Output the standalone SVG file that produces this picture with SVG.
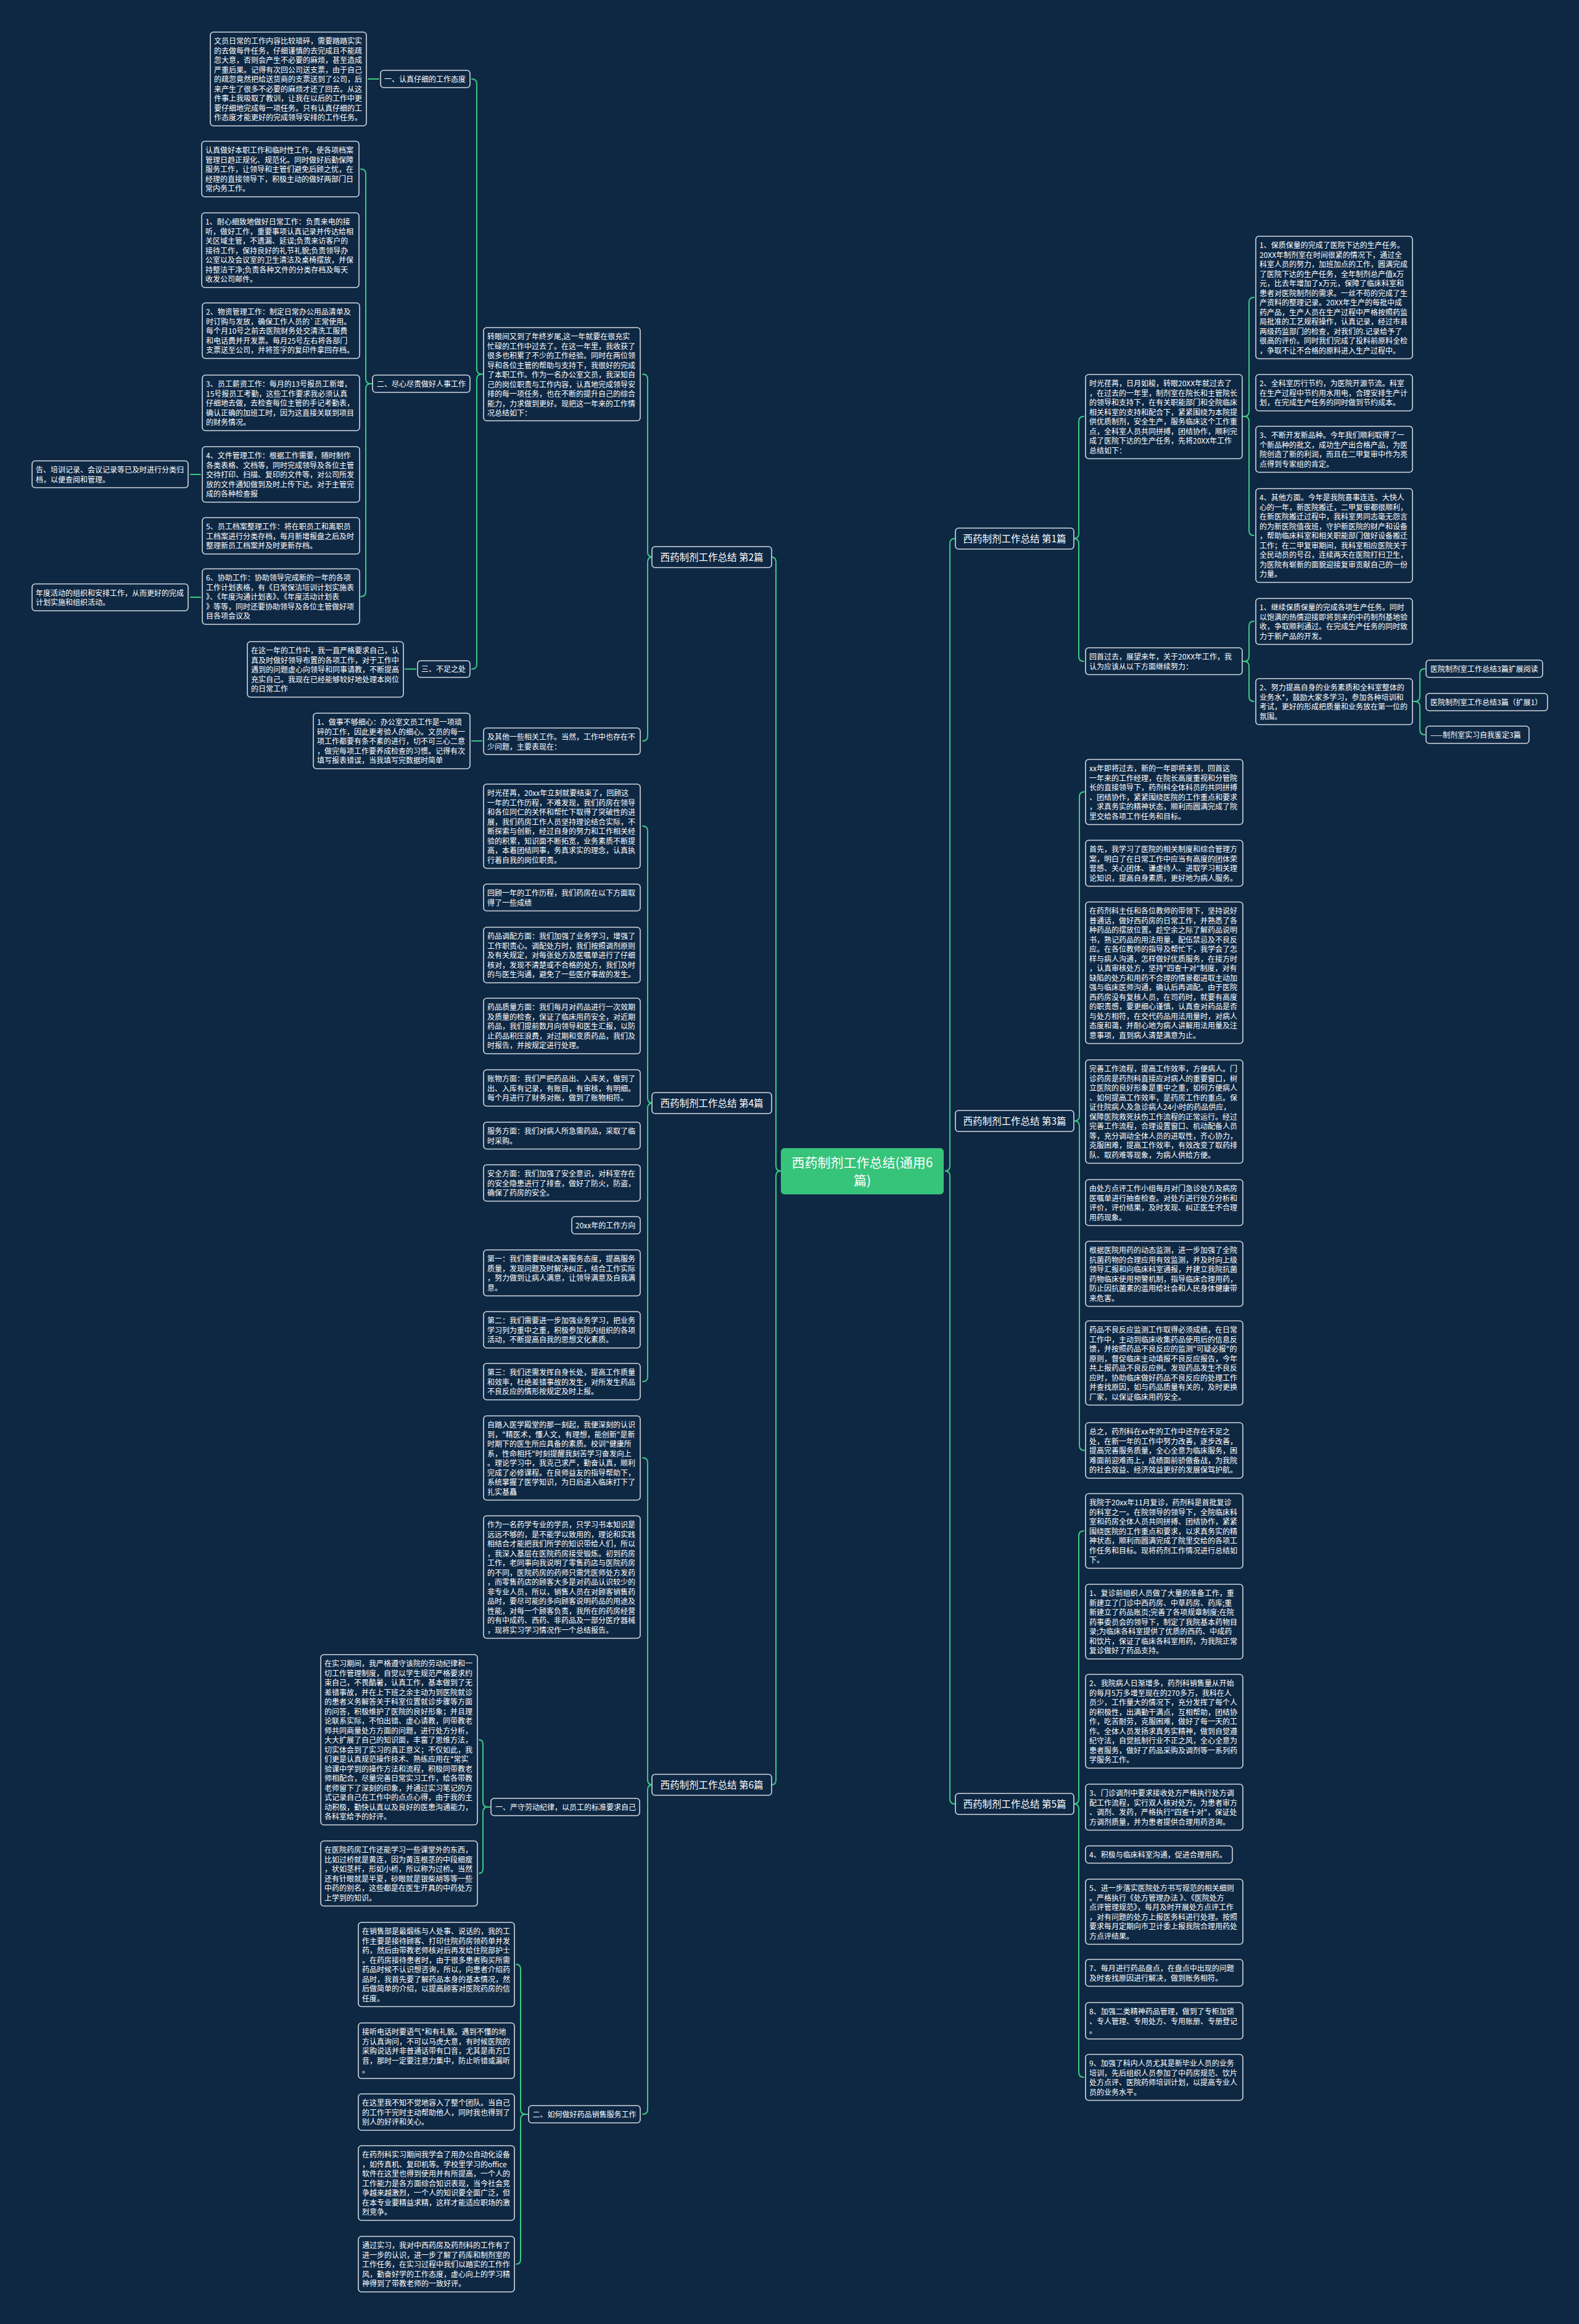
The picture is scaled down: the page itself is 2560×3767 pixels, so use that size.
<svg xmlns="http://www.w3.org/2000/svg" width="2560" height="3767" viewBox="0 0 2560 3767">
<style>
.bg{fill:#0e2844}
.box{fill:#0e2844;stroke:#d3d8de;stroke-width:1.6}
.t{font-family:"Noto Sans CJK SC","Noto Sans",sans-serif;font-size:12px;fill:#ffffff}
.l1{fill:#0e2844;stroke:#d3d8de;stroke-width:1.6}
.l1t{font-family:"Noto Sans CJK SC","Noto Sans",sans-serif;font-size:15.5px;fill:#ffffff;text-anchor:middle}
.root{fill:#36c37a}
.rt{font-family:"Noto Sans CJK SC","Noto Sans",sans-serif;font-size:21px;fill:#ffffff;text-anchor:middle}
.lk{fill:none;stroke:#3ccb83;stroke-width:2;stroke-linecap:round}
</style>
<rect class="bg" x="0" y="0" width="2560" height="3767"/>

<g id="connectors">
<path class="lk" d="M1251,903 Q1258,903 1258,911 L1258,1890 Q1258,1898 1266,1898 Q1258,1898 1258,1906 L1258,2885 Q1258,2893 1251,2893"/>
<path class="lk" d="M1548,873 Q1540,873 1540,881 L1540,1890 Q1540,1898 1532,1898 Q1540,1898 1540,1906 L1540,2916 Q1540,2924 1548,2924"/>
<path class="lk" d="M1042,606.5 Q1050,606.5 1050,614.5 L1050,895 Q1050,903 1058,903 Q1050,903 1050,911 L1050,1193 Q1050,1201 1042,1201"/>
<path class="lk" d="M765,128 Q773,128 773,136 L773,598.5 Q773,606.5 781,606.5 Q773,606.5 773,614.5 L773,1076.5 Q773,1084.5 765,1084.5 M781,606.5 H784"/>
<path class="lk" d="M585,274 Q593,274 593,282 L593,614 Q593,622 601,622 Q593,622 593,630 L593,959 Q593,967 585,967 M601,622 H604"/>
<path class="lk" d="M597,128 H614"/>
<path class="lk" d="M309,769 H325"/>
<path class="lk" d="M309,968 H325"/>
<path class="lk" d="M657,1084.5 H674"/>
<path class="lk" d="M765,1201 H781"/>
<path class="lk" d="M1042,1339 Q1050,1339 1050,1347 L1050,1780 Q1050,1788 1058,1788 Q1050,1788 1050,1796 L1050,2231.5 Q1050,2239.5 1042,2239.5"/>
<path class="lk" d="M1042,2363 Q1050,2363 1050,2371 L1050,2885 Q1050,2893 1058,2893 Q1050,2893 1050,2901 L1050,3419 Q1050,3427 1042,3427"/>
<path class="lk" d="M777,2820 Q783,2820 783,2828 L783,2921 Q783,2929 791,2929 Q783,2929 783,2937 L783,3028.5 Q783,3036.5 777,3036.5 M791,2929 H796"/>
<path class="lk" d="M837,3184 Q844,3184 844,3192 L844,3419 Q844,3427 852,3427 Q844,3427 844,3435 L844,3662 Q844,3670 837,3670 M852,3427 H857"/>
<path class="lk" d="M1757,675 Q1749,675 1749,683 L1749,865 Q1749,873 1741,873 Q1749,873 1749,881 L1749,1064 Q1749,1072 1757,1072"/>
<path class="lk" d="M2033,482 Q2025,482 2025,490 L2025,667 Q2025,675 2017,675 Q2025,675 2025,683 L2025,860 Q2025,868 2033,868 M2017,675 H2014"/>
<path class="lk" d="M2033,1007 Q2025,1007 2025,1015 L2025,1064 Q2025,1072 2017,1072 Q2025,1072 2025,1080 L2025,1129 Q2025,1137 2033,1137 M2017,1072 H2014"/>
<path class="lk" d="M2310,1084 Q2302,1084 2302,1092 L2302,1129 Q2302,1137 2294,1137 Q2302,1137 2302,1145 L2302,1183 Q2302,1191 2310,1191 M2294,1137 H2290"/>
<path class="lk" d="M1758,1283.5 Q1750,1283.5 1750,1291.5 L1750,1809 Q1750,1817 1742,1817 Q1750,1817 1750,1825 L1750,2343 Q1750,2351 1758,2351"/>
<path class="lk" d="M1757,2481.5 Q1749,2481.5 1749,2489.5 L1749,2916 Q1749,2924 1741,2924 Q1749,2924 1749,2932 L1749,3359 Q1749,3367 1757,3367"/>
</g>

<g id="root"><rect class="root" x="1266" y="1861" width="264" height="75" rx="6"/><text class="rt" x="1398" y="1892">西药制剂工作总结(通用6<tspan x="1398" dy="29">篇)</tspan></text></g>

<g id="p2"><rect class="l1" x="1057" y="886" width="194" height="34" rx="5"/><text class="l1t" x="1154" y="908.5">西药制剂工作总结 第2篇</text></g>
<g id="p4"><rect class="l1" x="1057" y="1771" width="194" height="34" rx="5"/><text class="l1t" x="1154" y="1793.5">西药制剂工作总结 第4篇</text></g>
<g id="p6"><rect class="l1" x="1057" y="2876" width="194" height="34" rx="5"/><text class="l1t" x="1154" y="2898.5">西药制剂工作总结 第6篇</text></g>
<g id="p1"><rect class="l1" x="1549" y="856" width="192" height="34" rx="5"/><text class="l1t" x="1645" y="878.5">西药制剂工作总结 第1篇</text></g>
<g id="p3"><rect class="l1" x="1549" y="1800" width="192" height="34" rx="5"/><text class="l1t" x="1645" y="1822.5">西药制剂工作总结 第3篇</text></g>
<g id="p5"><rect class="l1" x="1549" y="2907" width="192" height="34" rx="5"/><text class="l1t" x="1645" y="2929.5">西药制剂工作总结 第5篇</text></g>

<g id="n2-intro"><rect class="box" x="784" y="531" width="254" height="151" rx="5"/><text class="t" x="790" y="550">转眼间又到了年终岁尾,这一年就要在很充实<tspan x="790" dy="15.5">忙碌的工作中过去了。在这一年里，我收获了</tspan><tspan x="790" dy="15.5">很多也积累了不少的工作经验。同时在两位领</tspan><tspan x="790" dy="15.5">导和各位主管的帮助与支持下，我很好的完成</tspan><tspan x="790" dy="15.5">了本职工作。作为一名办公室文员，我深知自</tspan><tspan x="790" dy="15.5">己的岗位职责与工作内容，认真地完成领导安</tspan><tspan x="790" dy="15.5">排的每一项任务，也在不断的提升自己的综合</tspan><tspan x="790" dy="15.5">能力，力求做到更好。现把这一年来的工作情</tspan><tspan x="790" dy="15.5">况总结如下：</tspan></text></g>

<g id="n2-a"><rect class="box" x="617" y="114" width="145" height="28" rx="5"/><text class="t" x="623" y="132.5">一、认真仔细的工作态度</text></g>
<g id="n2-a1"><rect class="box" x="341" y="52" width="253" height="152" rx="5"/><text class="t" x="347" y="71">文员日常的工作内容比较琐碎，需要踏踏实实<tspan x="347" dy="15.5">的去做每件任务，仔细谨慎的去完成且不能疏</tspan><tspan x="347" dy="15.5">忽大意，否则会产生不必要的麻烦，甚至造成</tspan><tspan x="347" dy="15.5">严重后果。记得有次回公司送支票，由于自己</tspan><tspan x="347" dy="15.5">的疏忽竟然把给送货商的支票送到了公司，后</tspan><tspan x="347" dy="15.5">来产生了很多不必要的麻烦才还了回去。从这</tspan><tspan x="347" dy="15.5">件事上我吸取了教训，让我在以后的工作中更</tspan><tspan x="347" dy="15.5">要仔细地完成每一项任务。只有认真仔细的工</tspan><tspan x="347" dy="15.5">作态度才能更好的完成领导安排的工作任务。</tspan></text></g>

<g id="n2-b"><rect class="box" x="604" y="608" width="158" height="28" rx="5"/><text class="t" x="611" y="626.5">二、尽心尽责做好人事工作</text></g>
<g id="n2-b1"><rect class="box" x="327" y="229" width="255" height="90" rx="5"/><text class="t" x="333" y="248">认真做好本职工作和临时性工作，使各项档案<tspan x="333" dy="15.5">管理日趋正规化、规范化。同时做好后勤保障</tspan><tspan x="333" dy="15.5">服务工作，让领导和主管们避免后顾之忧，在</tspan><tspan x="333" dy="15.5">经理的直接领导下，积极主动的做好两部门日</tspan><tspan x="333" dy="15.5">常内务工作。</tspan></text></g>
<g id="n2-b2"><rect class="box" x="327" y="345" width="255" height="121" rx="5"/><text class="t" x="333" y="364">1、耐心细致地做好日常工作：负责来电的接<tspan x="333" dy="15.5">听，做好工作，重要事项认真记录并传达给相</tspan><tspan x="333" dy="15.5">关区域主管，不遗漏、延误;负责来访客户的</tspan><tspan x="333" dy="15.5">接待工作，保持良好的礼节礼貌;负责领导办</tspan><tspan x="333" dy="15.5">公室以及会议室的卫生清洁及桌椅摆放，并保</tspan><tspan x="333" dy="15.5">持整洁干净;负责各种文件的分类存档及每天</tspan><tspan x="333" dy="15.5">收发公司邮件。</tspan></text></g>
<g id="n2-b3"><rect class="box" x="328" y="491" width="255" height="90" rx="5"/><text class="t" x="334" y="510">2、物资管理工作：制定日常办公用品清单及<tspan x="334" dy="15.5">时订购与发放，确保工作人员的`正常使用。</tspan><tspan x="334" dy="15.5">每个月10号之前去医院财务处交清洗工服费</tspan><tspan x="334" dy="15.5">和电话费并开发票。每月25号左右将各部门</tspan><tspan x="334" dy="15.5">支票送至公司，并将签字的复印件拿回存档。</tspan></text></g>
<g id="n2-b4"><rect class="box" x="328" y="608" width="255" height="90" rx="5"/><text class="t" x="334" y="627">3、员工薪资工作：每月的13号报员工新增，<tspan x="334" dy="15.5">15号报员工考勤，这些工作要求我必须认真</tspan><tspan x="334" dy="15.5">仔细地去做，去检查每位主管的手记考勤表，</tspan><tspan x="334" dy="15.5">确认正确的加班工时，因为这直接关联到项目</tspan><tspan x="334" dy="15.5">的财务情况。</tspan></text></g>
<g id="n2-b5"><rect class="box" x="328" y="724" width="255" height="90" rx="5"/><text class="t" x="334" y="743">4、文件管理工作：根据工作需要，随时制作<tspan x="334" dy="15.5">各类表格、文档等，同时完成领导及各位主管</tspan><tspan x="334" dy="15.5">交待打印、扫描、复印的文件等，对公司所发</tspan><tspan x="334" dy="15.5">放的文件通知做到及时上传下达。对于主管完</tspan><tspan x="334" dy="15.5">成的各种检查报</tspan></text></g>
<g id="n2-b5a"><rect class="box" x="52" y="747" width="253" height="43.5" rx="5"/><text class="t" x="58" y="766">告、培训记录、会议记录等已及时进行分类归<tspan x="58" dy="15.5">档，以便查阅和管理。</tspan></text></g>
<g id="n2-b6"><rect class="box" x="328" y="839" width="255" height="59" rx="5"/><text class="t" x="334" y="858">5、员工档案整理工作：将在职员工和离职员<tspan x="334" dy="15.5">工档案进行分类存档，每月新增报盘之后及时</tspan><tspan x="334" dy="15.5">整理新员工档案并及时更新存档。</tspan></text></g>
<g id="n2-b7"><rect class="box" x="328" y="922" width="255" height="90" rx="5"/><text class="t" x="334" y="941">6、协助工作：协助领导完成新的一年的各项<tspan x="334" dy="15.5">工作计划表格，有《日常保洁培训计划实施表</tspan><tspan x="334" dy="15.5">》、《年度沟通计划表》、《年度活动计划表</tspan><tspan x="334" dy="15.5">》等等，同时还要协助领导及各位主管做好项</tspan><tspan x="334" dy="15.5">目各项会议及</tspan></text></g>
<g id="n2-b7a"><rect class="box" x="52" y="946.5" width="253" height="43.5" rx="5"/><text class="t" x="58" y="965.5">年度活动的组织和安排工作，从而更好的完成<tspan x="58" dy="15.5">计划实施和组织活动。</tspan></text></g>
<g id="n2-c"><rect class="box" x="677" y="1071" width="85" height="27" rx="5"/><text class="t" x="683" y="1089">三、不足之处</text></g>
<g id="n2-c1"><rect class="box" x="401" y="1040" width="253" height="90" rx="5"/><text class="t" x="407" y="1059">在这一年的工作中，我一直严格要求自己，认<tspan x="407" dy="15.5">真及时做好领导布置的各项工作，对于工作中</tspan><tspan x="407" dy="15.5">遇到的问题虚心向领导和同事请教，不断提高</tspan><tspan x="407" dy="15.5">充实自己。我现在已经能够较好地处理本岗位</tspan><tspan x="407" dy="15.5">的日常工作</tspan></text></g>
<g id="n2-d"><rect class="box" x="784" y="1180" width="254" height="43" rx="5"/><text class="t" x="790" y="1199">及其他一些相关工作。当然，工作中也存在不<tspan x="790" dy="15.5">少问题，主要表现在：</tspan></text></g>
<g id="n2-d1"><rect class="box" x="508" y="1156" width="254" height="90" rx="5"/><text class="t" x="514" y="1175">1、做事不够细心：办公室文员工作是一项琐<tspan x="514" dy="15.5">碎的工作，因此更考验人的细心。文员的每一</tspan><tspan x="514" dy="15.5">项工作都要有条不紊的进行，切不可三心二意</tspan><tspan x="514" dy="15.5">，做完每项工作要养成检查的习惯。记得有次</tspan><tspan x="514" dy="15.5">填写报表错误，当我填写完数据时简单</tspan></text></g>

<g id="n4-1"><rect class="box" x="784" y="1271" width="254" height="136.5" rx="5"/><text class="t" x="790" y="1290">时光荏苒，20xx年立刻就要结束了，回顾这<tspan x="790" dy="15.5">一年的工作历程，不难发现，我们药房在领导</tspan><tspan x="790" dy="15.5">和各位同仁的关怀和帮忙下取得了突破性的进</tspan><tspan x="790" dy="15.5">展，我们药房工作人员坚持理论结合实际，不</tspan><tspan x="790" dy="15.5">断探索与创新，经过自身的努力和工作相关经</tspan><tspan x="790" dy="15.5">验的积累，知识面不断拓宽，业务素质不断提</tspan><tspan x="790" dy="15.5">高，本着团结同事，务真求实的理念，认真执</tspan><tspan x="790" dy="15.5">行着自我的岗位职责。</tspan></text></g>
<g id="n4-2"><rect class="box" x="784" y="1433" width="254" height="43.5" rx="5"/><text class="t" x="790" y="1452">回顾一年的工作历程，我们药房在以下方面取<tspan x="790" dy="15.5">得了一些成绩</tspan></text></g>
<g id="n4-3"><rect class="box" x="784" y="1503" width="254" height="90" rx="5"/><text class="t" x="790" y="1522">药品调配方面：我们加强了业务学习，增强了<tspan x="790" dy="15.5">工作职责心。调配处方时，我们按照调剂原则</tspan><tspan x="790" dy="15.5">及有关规定，对每张处方及医嘱单进行了仔细</tspan><tspan x="790" dy="15.5">核对，发现不清楚或不合格的处方，我们及时</tspan><tspan x="790" dy="15.5">的与医生沟通，避免了一些医疗事故的发生。</tspan></text></g>
<g id="n4-4"><rect class="box" x="784" y="1618" width="254" height="90" rx="5"/><text class="t" x="790" y="1637">药品质量方面：我们每月对药品进行一次效期<tspan x="790" dy="15.5">及质量的检查，保证了临床用药安全，对近期</tspan><tspan x="790" dy="15.5">药品，我们提前数月向领导和医生汇报，以防</tspan><tspan x="790" dy="15.5">止药品积压浪费，对过期和变质药品，我们及</tspan><tspan x="790" dy="15.5">时报告，并按规定进行处理。</tspan></text></g>
<g id="n4-5"><rect class="box" x="784" y="1734" width="254" height="59" rx="5"/><text class="t" x="790" y="1753">账物方面：我们严把药品出、入库关，做到了<tspan x="790" dy="15.5">出、入库有记录，有账目，有审核，有明细。</tspan><tspan x="790" dy="15.5">每个月进行了财务对账，做到了账物相符。</tspan></text></g>
<g id="n4-6"><rect class="box" x="784" y="1819" width="254" height="43.5" rx="5"/><text class="t" x="790" y="1838">服务方面：我们对病人所急需药品，采取了临<tspan x="790" dy="15.5">时采购。</tspan></text></g>
<g id="n4-7"><rect class="box" x="784" y="1888" width="254" height="59" rx="5"/><text class="t" x="790" y="1907">安全方面：我们加强了安全意识，对科室存在<tspan x="790" dy="15.5">的安全隐患进行了排查，做好了防火，防盗，</tspan><tspan x="790" dy="15.5">确保了药房的安全。</tspan></text></g>
<g id="n4-8"><rect class="box" x="927" y="1972" width="111" height="28" rx="5"/><text class="t" x="933" y="1990.5">20xx年的工作方向</text></g>
<g id="n4-9"><rect class="box" x="784" y="2026" width="254" height="74.5" rx="5"/><text class="t" x="790" y="2045">第一：我们需要继续改善服务态度，提高服务<tspan x="790" dy="15.5">质量，发现问题及时解决纠正，结合工作实际</tspan><tspan x="790" dy="15.5">，努力做到让病人满意，让领导满意及自我满</tspan><tspan x="790" dy="15.5">意。</tspan></text></g>
<g id="n4-10"><rect class="box" x="784" y="2126" width="254" height="59" rx="5"/><text class="t" x="790" y="2145">第二：我们需要进一步加强业务学习，把业务<tspan x="790" dy="15.5">学习列为重中之重，积极参加院内组织的各项</tspan><tspan x="790" dy="15.5">活动，不断提高自我的思想文化素质。</tspan></text></g>
<g id="n4-11"><rect class="box" x="784" y="2210" width="254" height="59" rx="5"/><text class="t" x="790" y="2229">第三：我们还需发挥自身长处，提高工作质量<tspan x="790" dy="15.5">和效率，杜绝差错事故的发生，对所发生药品</tspan><tspan x="790" dy="15.5">不良反应的情形按规定及时上报。</tspan></text></g>

<g id="n6-1"><rect class="box" x="784" y="2295" width="254" height="136.5" rx="5"/><text class="t" x="790" y="2314">自踏入医学殿堂的那一刻起，我便深刻的认识<tspan x="790" dy="15.5">到，"精医术，懂人文，有理想，能创新"是新</tspan><tspan x="790" dy="15.5">时期下的医生所应具备的素质。校训"健康所</tspan><tspan x="790" dy="15.5">系，性命相托"时刻提醒我刻苦学习奋发向上</tspan><tspan x="790" dy="15.5">。理论学习中，我克己求严，勤奋认真，顺利</tspan><tspan x="790" dy="15.5">完成了必修课程。在良师益友的指导帮助下，</tspan><tspan x="790" dy="15.5">系统掌握了医学知识，为日后进入临床打下了</tspan><tspan x="790" dy="15.5">扎实基矗</tspan></text></g>
<g id="n6-2"><rect class="box" x="784" y="2457" width="254" height="198.5" rx="5"/><text class="t" x="790" y="2476">作为一名药学专业的学员，只学习书本知识是<tspan x="790" dy="15.5">远远不够的，是不能学以致用的，理论和实践</tspan><tspan x="790" dy="15.5">相结合才能把我们所学的知识带给人们，所以</tspan><tspan x="790" dy="15.5">，我深入基层在医院药房接受锻炼。初到药房</tspan><tspan x="790" dy="15.5">工作，老同事向我说明了零售药店与医院药房</tspan><tspan x="790" dy="15.5">的不同，医院药房的药师只需凭医师处方发药</tspan><tspan x="790" dy="15.5">，而零售药店的顾客大多是对药品认识较少的</tspan><tspan x="790" dy="15.5">非专业人员，所以，销售人员在对顾客销售药</tspan><tspan x="790" dy="15.5">品时，要尽可能的多向顾客说明药品的用途及</tspan><tspan x="790" dy="15.5">性能，对每一个顾客负责，我所在的药房经营</tspan><tspan x="790" dy="15.5">的有中成药、西药、非药品及一部分医疗器械</tspan><tspan x="790" dy="15.5">，现将实习学习情况作一个总结报告。</tspan></text></g>
<g id="n6-3"><rect class="box" x="796" y="2915" width="241" height="28" rx="5"/><text class="t" x="803" y="2933.5">一、严守劳动纪律，以员工的标准要求自己</text></g>
<g id="n6-3a"><rect class="box" x="520" y="2682" width="254" height="276" rx="5"/><text class="t" x="526" y="2701">在实习期间，我严格遵守该院的劳动纪律和一<tspan x="526" dy="15.5">切工作管理制度，自觉以学生规范严格要求约</tspan><tspan x="526" dy="15.5">束自己，不畏酷暑，认真工作，基本做到了无</tspan><tspan x="526" dy="15.5">差错事故，并在上下班之余主动为到医院就诊</tspan><tspan x="526" dy="15.5">的患者义务解答关于科室位置就诊步骤等方面</tspan><tspan x="526" dy="15.5">的问答，积极维护了医院的良好形象；并且理</tspan><tspan x="526" dy="15.5">论联系实际，不怕出错、虚心请教，同带教老</tspan><tspan x="526" dy="15.5">师共同商量处方方面的问题，进行处方分析，</tspan><tspan x="526" dy="15.5">大大扩展了自己的知识面，丰富了思维方法，</tspan><tspan x="526" dy="15.5">切实体会到了实习的真正意义；不仅如此，我</tspan><tspan x="526" dy="15.5">们更是认真规范操作技术、熟练应用在*常实</tspan><tspan x="526" dy="15.5">验课中学到的操作方法和流程，积极同带教老</tspan><tspan x="526" dy="15.5">师相配合，尽量完善日常实习工作，给各带教</tspan><tspan x="526" dy="15.5">老师留下了深刻的印象，并通过实习笔记的方</tspan><tspan x="526" dy="15.5">式记录自己在工作中的点点心得，由于我的主</tspan><tspan x="526" dy="15.5">动积极，勤快认真以及良好的医患沟通能力，</tspan><tspan x="526" dy="15.5">各科室给予的好评。</tspan></text></g>
<g id="n6-3b"><rect class="box" x="520" y="2984" width="254" height="105.5" rx="5"/><text class="t" x="526" y="3003">在医院药房工作还能学习一些课堂外的东西，<tspan x="526" dy="15.5">比如过桥就是黄连，因为黄连根茎的中段细瘦</tspan><tspan x="526" dy="15.5">，状如茎杆，形如小桥，所以称为过桥。当然</tspan><tspan x="526" dy="15.5">还有针眼就是半夏，砂眼就是银柴胡等等一些</tspan><tspan x="526" dy="15.5">中药的别名，这些都是在医生开具的中药处方</tspan><tspan x="526" dy="15.5">上学到的知识。</tspan></text></g>
<g id="n6-4"><rect class="box" x="857" y="3413" width="181" height="28" rx="5"/><text class="t" x="863.5" y="3431.5">二、如何做好药品销售服务工作</text></g>
<g id="n6-4a"><rect class="box" x="581" y="3116" width="253" height="136.5" rx="5"/><text class="t" x="587" y="3135">在销售部是最煅练与人处事、说话的，我的工<tspan x="587" dy="15.5">作主要是接待顾客、打印住院药房领药单并发</tspan><tspan x="587" dy="15.5">药，然后由带教老师核对后再发给住院部护士</tspan><tspan x="587" dy="15.5">。在药房接待患者时，由于很多患者购买所需</tspan><tspan x="587" dy="15.5">药品时候不认识想咨询，所以，向患者介绍药</tspan><tspan x="587" dy="15.5">品时，我首先要了解药品本身的基本情况，然</tspan><tspan x="587" dy="15.5">后做简单的介绍，以提高顾客对医院药房的信</tspan><tspan x="587" dy="15.5">任度。</tspan></text></g>
<g id="n6-4b"><rect class="box" x="581" y="3279" width="253" height="90" rx="5"/><text class="t" x="587" y="3298">接听电话时要语气*和有礼貌。遇到不懂的地<tspan x="587" dy="15.5">方认真询问，不可以马虎大意，有时候医院的</tspan><tspan x="587" dy="15.5">采购说话并非普通话带有口音，尤其是南方口</tspan><tspan x="587" dy="15.5">音，那时一定要注意力集中，防止听错或漏听</tspan><tspan x="587" dy="15.5">。</tspan></text></g>
<g id="n6-4c"><rect class="box" x="581" y="3394" width="253" height="59" rx="5"/><text class="t" x="587" y="3413">在这里我不知不觉地容入了整个团队。当自己<tspan x="587" dy="15.5">的工作干完时主动帮助他人，同时我也得到了</tspan><tspan x="587" dy="15.5">别人的好评和关心。</tspan></text></g>
<g id="n6-4d"><rect class="box" x="581" y="3478" width="253" height="121" rx="5"/><text class="t" x="587" y="3497">在药剂科实习期间我学会了用办公自动化设备<tspan x="587" dy="15.5">，如传真机、复印机等。学校里学习的office</tspan><tspan x="587" dy="15.5">软件在这里也得到使用并有所提高，一个人的</tspan><tspan x="587" dy="15.5">工作能力是各方面综合知识表现，当今社会竞</tspan><tspan x="587" dy="15.5">争越来越激烈，一个人的知识要全面广泛，但</tspan><tspan x="587" dy="15.5">在本专业要精益求精，这样才能适应职场的激</tspan><tspan x="587" dy="15.5">烈竞争。</tspan></text></g>
<g id="n6-4e"><rect class="box" x="581" y="3625" width="253" height="90" rx="5"/><text class="t" x="587" y="3644">通过实习，我对中西药房及药剂科的工作有了<tspan x="587" dy="15.5">进一步的认识，进一步了解了药库和制剂室的</tspan><tspan x="587" dy="15.5">工作任务，在实习过程中我们以踏实的工作作</tspan><tspan x="587" dy="15.5">风，勤奋好学的工作态度，虚心向上的学习精</tspan><tspan x="587" dy="15.5">神得到了带教老师的一致好评。</tspan></text></g>

<g id="n1-a"><rect class="box" x="1760" y="607" width="254" height="136.5" rx="5"/><text class="t" x="1766" y="626">时光荏苒，日月如梭，转眼20XX年就过去了<tspan x="1766" dy="15.5">，在过去的一年里，制剂室在院长和主管院长</tspan><tspan x="1766" dy="15.5">的领导和支持下，在有关职能部门和全院临床</tspan><tspan x="1766" dy="15.5">相关科室的支持和配合下，紧紧围绕为本院提</tspan><tspan x="1766" dy="15.5">供优质制剂，安全生产，服务临床这个工作重</tspan><tspan x="1766" dy="15.5">点，全科室人员共同拼搏，团结协作，顺利完</tspan><tspan x="1766" dy="15.5">成了医院下达的生产任务，先将20XX年工作</tspan><tspan x="1766" dy="15.5">总结如下：</tspan></text></g>
<g id="n1-a1"><rect class="box" x="2036" y="383" width="254" height="198.5" rx="5"/><text class="t" x="2042" y="402">1、保质保量的完成了医院下达的生产任务。<tspan x="2042" dy="15.5">20XX年制剂室在时间很紧的情况下，通过全</tspan><tspan x="2042" dy="15.5">科室人员的努力，加班加点的工作，圆满完成</tspan><tspan x="2042" dy="15.5">了医院下达的生产任务，全年制剂总产值x万</tspan><tspan x="2042" dy="15.5">元，比去年增加了x万元，保障了临床科室和</tspan><tspan x="2042" dy="15.5">患者对医院制剂的需求。一丝不苟的完成了生</tspan><tspan x="2042" dy="15.5">产资料的整理记录。20XX年生产的每批中成</tspan><tspan x="2042" dy="15.5">药产品，生产人员在生产过程中严格按照药监</tspan><tspan x="2042" dy="15.5">局批准的工艺规程操作，认真记录，经过市县</tspan><tspan x="2042" dy="15.5">两级药监部门的检查，对我们的.记录给予了</tspan><tspan x="2042" dy="15.5">很高的评价。同时我们完成了投料前原料全检</tspan><tspan x="2042" dy="15.5">，争取不让不合格的原料进入生产过程中。</tspan></text></g>
<g id="n1-a2"><rect class="box" x="2036" y="607" width="254" height="59" rx="5"/><text class="t" x="2042" y="626">2、全科室厉行节约，为医院开源节流。科室<tspan x="2042" dy="15.5">在生产过程中节约用水用电，合理安排生产计</tspan><tspan x="2042" dy="15.5">划，在完成生产任务的同时做到节约成本。</tspan></text></g>
<g id="n1-a3"><rect class="box" x="2036" y="691" width="254" height="74.5" rx="5"/><text class="t" x="2042" y="710">3、不断开发新品种。今年我们顺利取得了一<tspan x="2042" dy="15.5">个新品种的批文，成功生产出合格产品，为医</tspan><tspan x="2042" dy="15.5">院创造了新的利润，而且在二甲复审中作为亮</tspan><tspan x="2042" dy="15.5">点得到专家组的肯定。</tspan></text></g>
<g id="n1-a4"><rect class="box" x="2036" y="792" width="254" height="152" rx="5"/><text class="t" x="2042" y="811">4、其他方面。今年是我院喜事连连、大快人<tspan x="2042" dy="15.5">心的一年，新医院搬迁，二甲复审都很顺利，</tspan><tspan x="2042" dy="15.5">在新医院搬迁过程中，我科室男同志毫无怨言</tspan><tspan x="2042" dy="15.5">的为新医院值夜班，守护新医院的财产和设备</tspan><tspan x="2042" dy="15.5">，帮助临床科室和相关职能部门做好设备搬迁</tspan><tspan x="2042" dy="15.5">工作；在二甲复审期间，我科室相应医院关于</tspan><tspan x="2042" dy="15.5">全民动员的号召，连续两天在医院打扫卫生，</tspan><tspan x="2042" dy="15.5">为医院有崭新的面貌迎接复审贡献自己的一份</tspan><tspan x="2042" dy="15.5">力量。</tspan></text></g>
<g id="n1-b"><rect class="box" x="1760" y="1050" width="254" height="43.5" rx="5"/><text class="t" x="1766" y="1069">回首过去，展望来年，关于20XX年工作，我<tspan x="1766" dy="15.5">认为应该从以下方面继续努力：</tspan></text></g>
<g id="n1-b1"><rect class="box" x="2036" y="970" width="254" height="74.5" rx="5"/><text class="t" x="2042" y="989">1、继续保质保量的完成各项生产任务。同时<tspan x="2042" dy="15.5">以饱满的热情迎接即将到来的中药制剂基地验</tspan><tspan x="2042" dy="15.5">收，争取顺利通过。在完成生产任务的同时致</tspan><tspan x="2042" dy="15.5">力于新产品的开发。</tspan></text></g>
<g id="n1-b2"><rect class="box" x="2036" y="1100" width="254" height="74.5" rx="5"/><text class="t" x="2042" y="1119">2、努力提高自身的业务素质和全科室整体的<tspan x="2042" dy="15.5">业务水*，鼓励大家多学习，参加各种培训和</tspan><tspan x="2042" dy="15.5">考试，更好的形成把质量和业务放在第一位的</tspan><tspan x="2042" dy="15.5">氛围。</tspan></text></g>
<g id="n1-l1"><rect class="box" x="2312" y="1070" width="189" height="28" rx="5"/><text class="t" x="2319" y="1088.5">医院制剂室工作总结3篇扩展阅读</text></g>
<g id="n1-l2"><rect class="box" x="2312" y="1124" width="197" height="28" rx="5"/><text class="t" x="2319" y="1142.5">医院制剂室工作总结3篇（扩展1）</text></g>
<g id="n1-l3"><rect class="box" x="2312" y="1177" width="167" height="28" rx="5"/><text class="t" x="2319" y="1195.5">——制剂室实习自我鉴定3篇</text></g>

<g id="n3-1"><rect class="box" x="1760" y="1231" width="255" height="105.5" rx="5"/><text class="t" x="1766" y="1250">xx年即将过去，新的一年即将来到，回首这<tspan x="1766" dy="15.5">一年来的工作经理，在院长高度重视和分管院</tspan><tspan x="1766" dy="15.5">长的直接领导下，药剂科全体科员的共同拼搏</tspan><tspan x="1766" dy="15.5">、团结协作，紧紧围绕医院的工作重点和要求</tspan><tspan x="1766" dy="15.5">，求真务实的精神状态，顺利而圆满完成了院</tspan><tspan x="1766" dy="15.5">里交给各项工作任务和目标。</tspan></text></g>
<g id="n3-2"><rect class="box" x="1760" y="1362" width="255" height="74.5" rx="5"/><text class="t" x="1766" y="1381">首先，我学习了医院的相关制度和综合管理方<tspan x="1766" dy="15.5">案，明白了在日常工作中应当有高度的团体荣</tspan><tspan x="1766" dy="15.5">誉感、关心团体、谦虚待人、进取学习相关理</tspan><tspan x="1766" dy="15.5">论知识，提高自身素质，更好地为病人服务。</tspan></text></g>
<g id="n3-3"><rect class="box" x="1760" y="1462" width="255" height="229.5" rx="5"/><text class="t" x="1766" y="1481">在药剂科主任和各位教师的带领下，坚持说好<tspan x="1766" dy="15.5">普通话，做好西药房的日常工作，并熟悉了各</tspan><tspan x="1766" dy="15.5">种药品的摆放位置。趁空余之际了解药品说明</tspan><tspan x="1766" dy="15.5">书，熟记药品的用法用量、配伍禁忌及不良反</tspan><tspan x="1766" dy="15.5">应。在各位教师的指导及帮忙下，我学会了怎</tspan><tspan x="1766" dy="15.5">样与病人沟通，怎样做好优质服务，在接方时</tspan><tspan x="1766" dy="15.5">，认真审核处方，坚持"四查十对"制度，对有</tspan><tspan x="1766" dy="15.5">缺陷的处方和用药不合理的情景都进取主动加</tspan><tspan x="1766" dy="15.5">强与临床医师沟通，确认后再调配。由于医院</tspan><tspan x="1766" dy="15.5">西药房没有复核人员，在司药时，就要有高度</tspan><tspan x="1766" dy="15.5">的职责感，要更细心谨慎，认真查对药品是否</tspan><tspan x="1766" dy="15.5">与处方相符，在交代药品用法用量时，对病人</tspan><tspan x="1766" dy="15.5">态度和蔼，并耐心地为病人讲解用法用量及注</tspan><tspan x="1766" dy="15.5">意事项，直到病人清楚满意为止。</tspan></text></g>
<g id="n3-4"><rect class="box" x="1760" y="1718" width="255" height="167.5" rx="5"/><text class="t" x="1766" y="1737">完善工作流程，提高工作效率，方便病人。门<tspan x="1766" dy="15.5">诊药房是药剂科直接应对病人的重要窗口，树</tspan><tspan x="1766" dy="15.5">立医院的良好形象是重中之重，如何方便病人</tspan><tspan x="1766" dy="15.5">、如何提高工作效率，是药房工作的重点。保</tspan><tspan x="1766" dy="15.5">证住院病人及急诊病人24小时的药品供应，</tspan><tspan x="1766" dy="15.5">保障医院救死扶伤工作流程的正常运行。经过</tspan><tspan x="1766" dy="15.5">完善工作流程，合理设置窗口、机动配备人员</tspan><tspan x="1766" dy="15.5">等，充分调动全体人员的进取性，齐心协力，</tspan><tspan x="1766" dy="15.5">克服困难，提高工作效率，有效改变了取药排</tspan><tspan x="1766" dy="15.5">队、取药难等现象，为病人供给方便。</tspan></text></g>
<g id="n3-5"><rect class="box" x="1760" y="1912" width="255" height="74.5" rx="5"/><text class="t" x="1766" y="1931">由处方点评工作小组每月对门急诊处方及病房<tspan x="1766" dy="15.5">医嘱单进行抽查检查。对处方进行处方分析和</tspan><tspan x="1766" dy="15.5">评价，评价结果，及时发现、纠正医生不合理</tspan><tspan x="1766" dy="15.5">用药现象。</tspan></text></g>
<g id="n3-6"><rect class="box" x="1760" y="2012" width="255" height="105.5" rx="5"/><text class="t" x="1766" y="2031">根据医院用药的动态监测，进一步加强了全院<tspan x="1766" dy="15.5">抗菌药物的合理应用有效监测，并及时向上级</tspan><tspan x="1766" dy="15.5">领导汇报和向临床科室通报，并建立我院抗菌</tspan><tspan x="1766" dy="15.5">药物临床使用预警机制，指导临床合理用药，</tspan><tspan x="1766" dy="15.5">防止因抗菌素的滥用给社会和人民身体健康带</tspan><tspan x="1766" dy="15.5">来危害。</tspan></text></g>
<g id="n3-7"><rect class="box" x="1760" y="2141" width="255" height="136.5" rx="5"/><text class="t" x="1766" y="2160">药品不良反应监测工作取得必须成绩，在日常<tspan x="1766" dy="15.5">工作中，主动到临床收集药品使用后的信息反</tspan><tspan x="1766" dy="15.5">馈，并按照药品不良反应的监测"可疑必报"的</tspan><tspan x="1766" dy="15.5">原则，督促临床主动填报不良反应报告，今年</tspan><tspan x="1766" dy="15.5">共上报药品不良反应例。发现药品发生不良反</tspan><tspan x="1766" dy="15.5">应时，协助临床做好药品不良反应的处理工作</tspan><tspan x="1766" dy="15.5">并查找原因，如与药品质量有关的，及时更换</tspan><tspan x="1766" dy="15.5">厂家，以保证临床用药安全。</tspan></text></g>
<g id="n3-8"><rect class="box" x="1760" y="2306" width="255" height="90" rx="5"/><text class="t" x="1766" y="2325">总之，药剂科在xx年的工作中还存在不足之<tspan x="1766" dy="15.5">处，在新一年的工作中努力改善，逐步改善，</tspan><tspan x="1766" dy="15.5">提高完善服务质量，全心全意为临床服务，困</tspan><tspan x="1766" dy="15.5">难面前迎难而上，成绩面前骄傲备战，为我院</tspan><tspan x="1766" dy="15.5">的社会效益、经济效益更好的发展保驾护航。</tspan></text></g>

<g id="n5-1"><rect class="box" x="1760" y="2421" width="255" height="121" rx="5"/><text class="t" x="1766" y="2440">我院于20xx年11月复诊，药剂科是首批复诊<tspan x="1766" dy="15.5">的科室之一。在院领导的领导下，全院临床科</tspan><tspan x="1766" dy="15.5">室和药房全体人员共同拼搏、团结协作，紧紧</tspan><tspan x="1766" dy="15.5">围绕医院的工作重点和要求，以求真务实的精</tspan><tspan x="1766" dy="15.5">神状态，顺利而圆满完成了院里交给的各项工</tspan><tspan x="1766" dy="15.5">作任务和目标。现将药剂工作情况进行总结如</tspan><tspan x="1766" dy="15.5">下。</tspan></text></g>
<g id="n5-2"><rect class="box" x="1760" y="2568" width="255" height="121" rx="5"/><text class="t" x="1766" y="2587">1、复诊前组织人员做了大量的准备工作，重<tspan x="1766" dy="15.5">新建立了门诊中西药房、中草药房、药库;重</tspan><tspan x="1766" dy="15.5">新建立了药品账页;完善了各项规章制度;在院</tspan><tspan x="1766" dy="15.5">药事委员会的领导下，制定了我院基本药物目</tspan><tspan x="1766" dy="15.5">录;为临床各科室提供了优质的西药、中成药</tspan><tspan x="1766" dy="15.5">和饮片，保证了临床各科室用药，为我院正常</tspan><tspan x="1766" dy="15.5">复诊做好了药品支持。</tspan></text></g>
<g id="n5-3"><rect class="box" x="1760" y="2714" width="255" height="152" rx="5"/><text class="t" x="1766" y="2733">2、我院病人日渐增多，药剂科销售量从开始<tspan x="1766" dy="15.5">的每月5万多增至现在的270多万，我科在人</tspan><tspan x="1766" dy="15.5">员少，工作量大的情况下，充分发挥了每个人</tspan><tspan x="1766" dy="15.5">的积极性，出满勤干满点，互相帮助，团结协</tspan><tspan x="1766" dy="15.5">作，吃苦耐劳，克服困难，做好了每一天的工</tspan><tspan x="1766" dy="15.5">作。全体人员发扬求真务实精神，做到自觉遵</tspan><tspan x="1766" dy="15.5">纪守法，自觉抵制行业不正之风，全心全意为</tspan><tspan x="1766" dy="15.5">患者服务，做好了药品采购及调剂等一系列药</tspan><tspan x="1766" dy="15.5">学服务工作。</tspan></text></g>
<g id="n5-4"><rect class="box" x="1760" y="2892" width="255" height="74.5" rx="5"/><text class="t" x="1766" y="2911">3、门诊调剂中要求接收处方严格执行处方调<tspan x="1766" dy="15.5">配工作流程，实行双人核对处方。为患者审方</tspan><tspan x="1766" dy="15.5">、调剂、发药，严格执行"四查十对"，保证处</tspan><tspan x="1766" dy="15.5">方调剂质量，并为患者提供合理用药咨询。</tspan></text></g>
<g id="n5-5"><rect class="box" x="1760" y="2992" width="238" height="28" rx="5"/><text class="t" x="1766" y="3010.5">4、积极与临床科室沟通，促进合理用药。</text></g>
<g id="n5-6"><rect class="box" x="1760" y="3046" width="255" height="105.5" rx="5"/><text class="t" x="1766" y="3065">5、进一步落实医院处方书写规范的相关细则<tspan x="1766" dy="15.5">。严格执行《处方管理办法 》、《医院处方</tspan><tspan x="1766" dy="15.5">点评管理规范》，每月及时开展处方点评工作</tspan><tspan x="1766" dy="15.5">，对有问题的处方上报医务科进行处理。按照</tspan><tspan x="1766" dy="15.5">要求每月定期向市卫计委上报我院合理用药处</tspan><tspan x="1766" dy="15.5">方点评结果。</tspan></text></g>
<g id="n5-7"><rect class="box" x="1760" y="3176" width="255" height="43.5" rx="5"/><text class="t" x="1766" y="3195">7、每月进行药品盘点，在盘点中出现的问题<tspan x="1766" dy="15.5">及时查找原因进行解决，做到账务相符。</tspan></text></g>
<g id="n5-8"><rect class="box" x="1760" y="3246" width="255" height="59" rx="5"/><text class="t" x="1766" y="3265">8、加强二类精神药品管理，做到了专柜加锁<tspan x="1766" dy="15.5">、专人管理、专用处方、专用账册、专册登记</tspan><tspan x="1766" dy="15.5">。</tspan></text></g>
<g id="n5-9"><rect class="box" x="1760" y="3330" width="255" height="74.5" rx="5"/><text class="t" x="1766" y="3349">9、加强了科内人员尤其是新毕业人员的业务<tspan x="1766" dy="15.5">培训，先后组织人员参加了中药房规范、饮片</tspan><tspan x="1766" dy="15.5">处方点评、医院药师培训计划，以提高专业人</tspan><tspan x="1766" dy="15.5">员的业务水平。</tspan></text></g>
</svg>
